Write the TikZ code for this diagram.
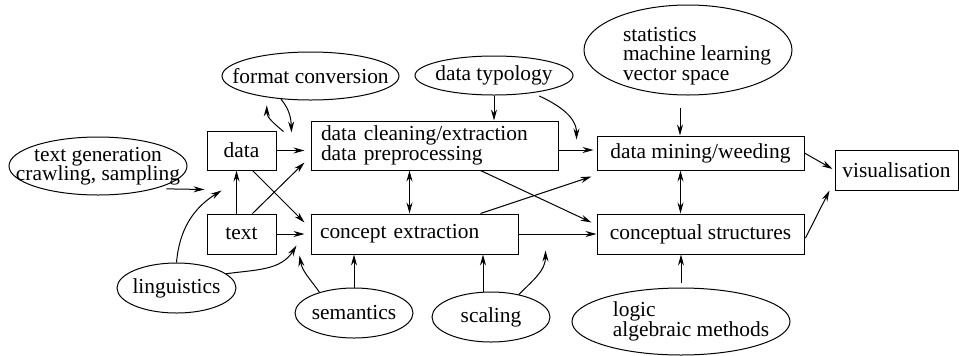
\documentclass[tikz,border=0pt]{standalone}
\usepackage{fontspec}
\setmainfont{Liberation Serif}
\newfontfamily\figfont{Liberation Serif}
\usetikzlibrary{arrows.meta,shapes.geometric,calc}

\begin{document}
\begin{tikzpicture}[x=0.5pt,y=-0.5pt,
    font=\figfont\fontsize{10.7}{9.75}\selectfont,
    line width=0.5pt,
    >={Stealth[length=5.5pt,width=3pt]},
    box/.style={draw, rectangle, inner sep=0pt},
    blob/.style={draw, ellipse, inner sep=0pt}
  ]
  \useasboundingbox (0,0) rectangle (959,355);
  \node[blob, minimum width=89pt, minimum height=29pt, label={[align=center]center:{text generation\\crawling, sampling}}] (gen) at (98,166) {};
  \node[blob, minimum width=88.5pt, minimum height=24pt, label={center:format conversion}] (fmt) at (310.5,76) {};
  \node[blob, minimum width=79pt, minimum height=19.5pt, label={center:data typology}] (typ) at (494,75.5) {};
  \node[blob, minimum width=104pt, minimum height=45pt, label={[align=left,xshift=4.5pt,yshift=-3pt]center:{statistics\\machine learning\\vector space}}] (stat) at (688,50) {};
  \node[blob, minimum width=59.5pt, minimum height=25pt, label={center:linguistics}] (ling) at (176.5,288) {};
  \node[blob, minimum width=59pt, minimum height=25pt, label={center:semantics}] (sem) at (354,313) {};
  \node[blob, minimum width=59pt, minimum height=25pt, label={center:scaling}] (scal) at (491,317) {};
  \node[blob, minimum width=109pt, minimum height=33.5pt, label={[align=left,xshift=5pt]center:{logic\\algebraic methods}}] (logic) at (681,321.5) {};
  \node[box, minimum width=34.5pt, minimum height=19.5pt] (data) at (241.5,150.5) {data};
  \node[box, minimum width=34.5pt, minimum height=20pt] (text) at (241.5,234) {text};
  \node[box, minimum height=24.5pt, text width=113.5pt, inner xsep=5pt, align=left] (clean) at (434.5,145.5) {data cleaning/extraction\\data preprocessing};
  \node[box, minimum height=20pt, text width=94.5pt, inner xsep=4.5pt, align=left] (concept) at (414.5,234) {concept extraction};
  \node[box, minimum width=103.5pt, minimum height=17pt] (mining) at (700.5,153) {data mining/weeding};
  \node[box, minimum width=103.5pt, minimum height=20pt] (struct) at (700.5,234) {conceptual structures};
  \node[box, minimum width=61.5pt, minimum height=20pt] (vis) at (896.5,170) {visualisation};
  \coordinate (gin) at ($(data.south west)+(-2,19)$);
  \coordinate (lin) at ($(data.south west)+(15,20)$);
  \coordinate (cin) at ($(concept.south west)+(-14,-9)$);
  \coordinate (fup) at ($(data.north east)+(7,1)$);
  \coordinate (fdown) at ($(clean.north west)+(-19,12)$);
  \draw[->] ($(gen.south east)+(5,2)$) -- (gin);
  \draw[->] (ling.north) to[out=85,in=212] (lin);
  \draw[->] (ling.16) to[out=8,in=238] (cin);
  \draw[->] ($(text.north)+(-5,0)$) -- ($(data.south)+(-5,0)$);
  \draw[->] ($(text.north east)+(-24,0)$) -- ($(clean.south west)+(-6,-8)$);
  \draw[->] ($(data.south east)+(-24,0)$) -- ($(concept.north west)+(-6,9)$);
  \draw[->] (text.east) -- ($(concept.west)+(-6,0)$);
  \draw[->] (data.east) -- ($(data.east -| clean.west)+(-6,0)$);
  \draw[->] (fup) to[out=140,in=-90] ($(fmt.206)+(0,8)$);
  \draw[->] (fmt.218) to[out=-50,in=92] (fdown);
  \draw[->] (typ.south) -- (typ.south |- clean.north);
  \draw[->] ($(typ.-20)+(0,4)$) to[out=-25,in=90] ($(mining.north west)+(-20,4)$);
  \draw[->] ($(stat.south)+(-8,12)$) -- ($(stat.south |- mining.north)+(-8,0)$);
  \draw[->] ($(clean.east)+(0,4.5)$) -- ($(clean.east -| mining.west)+(-3,4.5)$);
  \draw[<->] ($(concept.north)+(-5,0)$) -- ($(concept.north |- clean.south)+(-5,0)$);
  \draw[->] ($(clean.south east)+(-78,0)$) -- ($(struct.north west)+(-5,9)$);
  \draw[->] ($(concept.north east)+(-38,0)$) -- ($(mining.south west)+(-5,6)$);
  \draw[->] (concept.east) -- (concept.east -| struct.west);
  \draw[<->] ($(mining.south)+(-20,0)$) -- ($(mining.south |- struct.north)+(-20,0)$);
  \draw[->] ($(logic.north)+(0,-5)$) -- (logic.north |- struct.south);
  \draw[->] (mining.east) -- ($(vis.west)+(-2,-1)$);
  \draw[->] ($(struct.east)+(1,4)$) -- ($(vis.south west)+(-5,0)$);
  \draw[->] (sem.north) -- (sem.north |- concept.south);
  \draw[->] ($(scal.north)+(-8,0)$) -- ($(scal.north |- concept.south)+(-8,0)$);
  \draw[->] (sem.149) to[out=125,in=-80] ($(concept.south west)+(-11,1)$);
  \draw[->] (scal.39) to[out=45,in=-90] ($(concept.south east)+(27,-4)$);
\end{tikzpicture}
\end{document}
